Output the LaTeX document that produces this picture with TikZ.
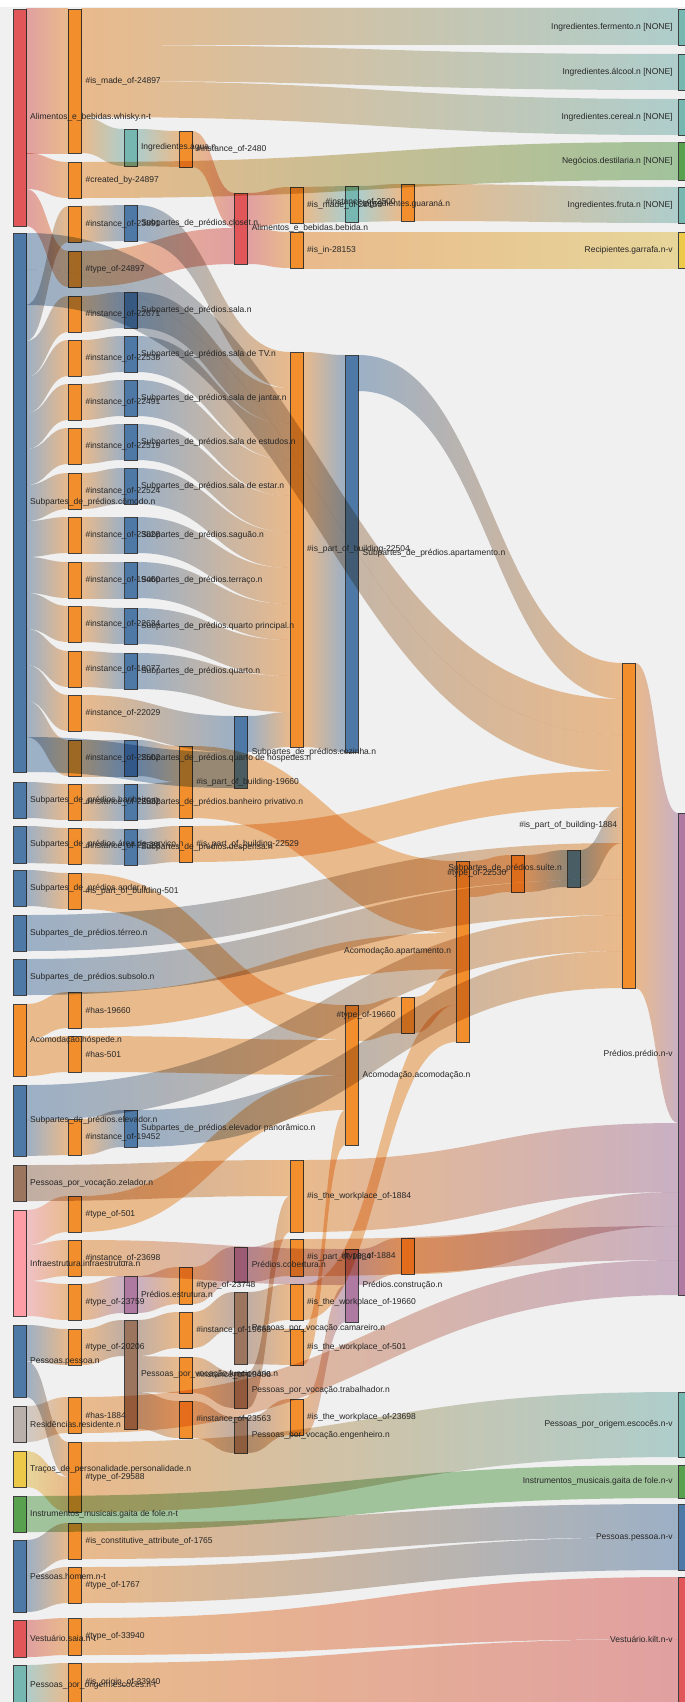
\documentclass[tikz,border=0pt]{standalone}
\usepackage{fontspec}
\setmainfont{Liberation Sans}
\usetikzlibrary{calc}

\definecolor{cBlue}{HTML}{4E79A7}
\definecolor{cOrange}{HTML}{F28E2C}
\definecolor{cRed}{HTML}{E15759}
\definecolor{cTeal}{HTML}{76B7B2}
\definecolor{cGreen}{HTML}{59A14F}
\definecolor{cYellow}{HTML}{EDC949}
\definecolor{cPurple}{HTML}{AF7AA1}
\definecolor{cPink}{HTML}{FF9DA7}
\definecolor{cBrown}{HTML}{9C755F}
\definecolor{cGray}{HTML}{BAB0AB}

\tikzset{
  bar/.style={fill=#1, draw=black!75, line width=0.6pt, minimum width=13pt,
    inner sep=0pt, outer sep=0pt, anchor=north west},
  link/.style={fill opacity=0.5, draw=none},
  lbl/.style={font=\fontsize{8.5}{10}\selectfont, text=black!85, inner sep=0pt}
}

% band from node #1 (offset #2, width #5) to node #3 (offset #4, width #6)
\newcommand{\flow}[8]{%
  \path[link, left color=#7, right color=#8]
    let \p1=(#1.north east), \p2=(#3.north west), \n1={(\x1+\x2)/2} in
    (\x1,\y1-#2) .. controls (\n1,\y1-#2) and (\n1,\y2-#4) .. (\x2,\y2-#4)
    -- (\x2,\y2-#4-#6) .. controls (\n1,\y2-#4-#6) and (\n1,\y1-#2-#5) .. (\x1,\y1-#2-#5)
    -- cycle;}
\newcommand{\lblR}[2]{\node[lbl, anchor=west] (#1-t) at ([xshift=4pt]#1.east) {#2};}
\newcommand{\lblL}[2]{\node[lbl, anchor=east] (#1-t) at ([xshift=-5pt]#1.west) {#2};}

\begin{document}
\begin{tikzpicture}[x=1pt, y=-1pt]

\useasboundingbox (0,0) rectangle (685,1702);
\fill[white] (0,0) rectangle (685,1702);
\fill[black!6] (0,7) rectangle (685,1702);

% Column 0
\node[bar=cRed, minimum height=217pt] (whisky) at (13,9) {};
\node[bar=cBlue, minimum height=539pt] (comodo) at (13,233) {};
\node[bar=cBlue, minimum height=36pt] (banheiro) at (13,782) {};
\node[bar=cBlue, minimum height=37pt] (area) at (13,826) {};
\node[bar=cBlue, minimum height=36pt] (andar) at (13,870) {};
\node[bar=cBlue, minimum height=36pt] (terreo) at (13,915) {};
\node[bar=cBlue, minimum height=36pt] (subsolo) at (13,959) {};
\node[bar=cOrange, minimum height=72pt] (hospede) at (13,1004) {};
\node[bar=cBlue, minimum height=71pt] (elevador) at (13,1085) {};
\node[bar=cBrown, minimum height=36pt] (zelador) at (13,1165) {};
\node[bar=cPink, minimum height=106pt] (infra) at (13,1210) {};
\node[bar=cBlue, minimum height=72pt] (pessoa) at (13,1325) {};
\node[bar=cGray, minimum height=36pt] (residente) at (13,1406) {};
\node[bar=cYellow, minimum height=36pt] (personal) at (13,1451) {};
\node[bar=cGreen, minimum height=36pt] (gaitat) at (13,1496) {};
\node[bar=cBlue, minimum height=72pt] (homem) at (13,1540) {};
\node[bar=cRed, minimum height=37pt] (saia) at (13,1620) {};
\node[bar=cTeal, minimum height=40pt] (escocest) at (13,1665) {};

% Column 1
\node[bar=cOrange, minimum height=144pt] (ismade) at (68.4,9) {};
\node[bar=cOrange, minimum height=36pt] (createdby) at (68.4,162) {};
\node[bar=cOrange, minimum height=36pt] (instA) at (68.4,206) {};
\node[bar=cOrange, minimum height=36pt] (typeof) at (68.4,251) {};
\node[bar=cOrange, minimum height=36pt] (instB) at (68.4,296) {};
\node[bar=cOrange, minimum height=36pt] (instC) at (68.4,340) {};
\node[bar=cOrange, minimum height=36pt] (instD) at (68.4,384) {};
\node[bar=cOrange, minimum height=36pt] (instE) at (68.4,428) {};
\node[bar=cOrange, minimum height=36pt] (instF) at (68.4,473) {};
\node[bar=cOrange, minimum height=36pt] (instG) at (68.4,517) {};
\node[bar=cOrange, minimum height=36pt] (instH) at (68.4,562) {};
\node[bar=cOrange, minimum height=36pt] (instI) at (68.4,606) {};
\node[bar=cOrange, minimum height=36pt] (instJ) at (68.4,651) {};
\node[bar=cOrange, minimum height=36pt] (instK) at (68.4,695) {};
\node[bar=cOrange, minimum height=36pt] (instL) at (68.4,740) {};
\node[bar=cOrange, minimum height=36pt] (instM) at (68.4,784) {};
\node[bar=cOrange, minimum height=36pt] (instN) at (68.4,828) {};
\node[bar=cOrange, minimum height=36pt] (ispart501) at (68.4,873) {};
\node[bar=cOrange, minimum height=36pt] (has19660) at (68.4,992) {};
\node[bar=cOrange, minimum height=36pt] (has501) at (68.4,1036) {};
\node[bar=cOrange, minimum height=36pt] (inst19452) at (68.4,1119) {};
\node[bar=cOrange, minimum height=36pt] (type501) at (68.4,1196) {};
\node[bar=cOrange, minimum height=36pt] (inst23698) at (68.4,1240) {};
\node[bar=cOrange, minimum height=36pt] (type23759) at (68.4,1284) {};
\node[bar=cOrange, minimum height=36pt] (type20206) at (68.4,1329) {};
\node[bar=cOrange, minimum height=36pt] (has1884) at (68.4,1397) {};
\node[bar=cOrange, minimum height=70pt] (type29588) at (68.4,1442) {};
\node[bar=cOrange, minimum height=36pt] (isconst) at (68.4,1523) {};
\node[bar=cOrange, minimum height=36pt] (type1767) at (68.4,1567) {};
\node[bar=cOrange, minimum height=37pt] (type33940) at (68.4,1618) {};
\node[bar=cOrange, minimum height=39pt] (orig33940) at (68.4,1663) {};

% Column 2
\node[bar=cTeal, minimum height=37pt] (agua) at (123.8,129) {};
\node[bar=cBlue, minimum height=36pt] (closet) at (123.8,205) {};
\node[bar=cBlue, minimum height=36pt] (sala) at (123.8,292) {};
\node[bar=cBlue, minimum height=36pt] (tv) at (123.8,336) {};
\node[bar=cBlue, minimum height=36pt] (jantar) at (123.8,380) {};
\node[bar=cBlue, minimum height=36pt] (estudos) at (123.8,424) {};
\node[bar=cBlue, minimum height=36pt] (estar) at (123.8,468) {};
\node[bar=cBlue, minimum height=36pt] (saguao) at (123.8,517) {};
\node[bar=cBlue, minimum height=36pt] (terraco) at (123.8,562) {};
\node[bar=cBlue, minimum height=36pt] (qprinc) at (123.8,608) {};
\node[bar=cBlue, minimum height=36pt] (quarto) at (123.8,653) {};
\node[bar=cBlue, minimum height=36pt] (qhosp) at (123.8,740) {};
\node[bar=cBlue, minimum height=36pt] (bpriv) at (123.8,784) {};
\node[bar=cBlue, minimum height=36pt] (despensa) at (123.8,829) {};
\node[bar=cBlue, minimum height=37pt] (elevpan) at (123.8,1110) {};
\node[bar=cPurple, minimum height=37pt] (estrutura) at (123.8,1276) {};
\node[bar=cBrown, minimum height=109pt] (funcionario) at (123.8,1320) {};

% Column 3
\node[bar=cOrange, minimum height=36pt] (inst2480) at (179.2,131) {};
\node[bar=cOrange, minimum height=72pt] (isp19660) at (179.2,746) {};
\node[bar=cOrange, minimum height=36pt] (isp22529) at (179.2,826) {};
\node[bar=cOrange, minimum height=37pt] (type23748) at (179.2,1267) {};
\node[bar=cOrange, minimum height=36pt] (inst19668) at (179.2,1312) {};
\node[bar=cOrange, minimum height=36pt] (inst19486) at (179.2,1357) {};
\node[bar=cOrange, minimum height=37pt] (inst23563) at (179.2,1401) {};

% Column 4
\node[bar=cRed, minimum height=71pt] (bebida) at (234.6,193) {};
\node[bar=cBlue, minimum height=72pt] (cozinha) at (234.6,716) {};
\node[bar=cPurple, minimum height=35pt] (cobertura) at (234.6,1247) {};
\node[bar=cBrown, minimum height=72pt] (camareiro) at (234.6,1292) {};
\node[bar=cBrown, minimum height=36pt] (trabalhador) at (234.6,1372) {};
\node[bar=cBrown, minimum height=36pt] (engenheiro) at (234.6,1417) {};

% Column 5
\node[bar=cOrange, minimum height=36pt] (ismadeB) at (290,187) {};
\node[bar=cOrange, minimum height=36pt] (isin) at (290,232) {};
\node[bar=cOrange, minimum height=395pt] (isp22504) at (290,352) {};
\node[bar=cOrange, minimum height=72pt] (work1884) at (290,1160) {};
\node[bar=cOrange, minimum height=37pt] (isx1884) at (290,1239) {};
\node[bar=cOrange, minimum height=36pt] (work19660) at (290,1284) {};
\node[bar=cOrange, minimum height=36pt] (work501) at (290,1329) {};
\node[bar=cOrange, minimum height=36pt] (work23698) at (290,1399) {};

% Column 6
\node[bar=cTeal, minimum height=36pt] (guarana) at (345.4,186) {};
\node[bar=cBlue, minimum height=397pt] (apartamento) at (345.4,355) {};
\node[bar=cOrange, minimum height=140pt] (acomodacao) at (345.4,1005) {};
\node[bar=cPurple, minimum height=73pt] (construcao) at (345.4,1249) {};

% Columns 7 to 11
\node[bar=cOrange, minimum height=37pt] (inst2500) at (400.8,184) {};
\node[bar=cOrange, minimum height=36pt] (type19660) at (400.8,997) {};
\node[bar=cOrange, minimum height=36pt] (typex1884) at (400.8,1238) {};
\node[bar=cOrange, minimum height=181pt] (acomapart) at (456.2,861) {};
\node[bar=cOrange, minimum height=37pt] (type22530) at (511.6,855) {};
\node[bar=cBlue, minimum height=37pt] (suite) at (567,850) {};
\node[bar=cOrange, minimum height=325pt] (isp1884) at (622.4,663) {};

% Column 12
\node[bar=cTeal, minimum height=36pt] (fermento) at (677.8,9) {};
\node[bar=cTeal, minimum height=36pt] (alcool) at (677.8,54) {};
\node[bar=cTeal, minimum height=36pt] (cereal) at (677.8,99) {};
\node[bar=cGreen, minimum height=38pt] (destilaria) at (677.8,142) {};
\node[bar=cTeal, minimum height=36pt] (fruta) at (677.8,187) {};
\node[bar=cYellow, minimum height=36pt] (garrafa) at (677.8,232) {};
\node[bar=cPurple, minimum height=482pt] (predio) at (677.8,813) {};
\node[bar=cTeal, minimum height=65pt] (escocesv) at (677.8,1392) {};
\node[bar=cGreen, minimum height=33pt] (gaitav) at (677.8,1465) {};
\node[bar=cBlue, minimum height=66pt] (pessoav) at (677.8,1504) {};
\node[bar=cRed, minimum height=125pt] (kilt) at (677.8,1577) {};

\begin{scope}[blend mode=multiply]
% Whisky and drinks
\flow{whisky}{0}{ismade}{0}{144}{144}{cRed}{cOrange}
\flow{whisky}{144}{createdby}{0}{36}{36}{cRed}{cOrange}
\flow{whisky}{180}{typeof}{0}{37}{36}{cRed}{cOrange}
\flow{ismade}{0}{fermento}{0}{36}{36}{cOrange}{cTeal}
\flow{ismade}{36}{alcool}{0}{36}{36}{cOrange}{cTeal}
\flow{ismade}{72}{cereal}{0}{36}{36}{cOrange}{cTeal}
\flow{ismade}{108}{agua}{0}{36}{37}{cOrange}{cTeal}
\flow{createdby}{0}{destilaria}{0}{36}{38}{cOrange}{cGreen}
\flow{agua}{0}{inst2480}{0}{37}{36}{cTeal}{cOrange}
\flow{inst2480}{0}{bebida}{0}{36}{35}{cOrange}{cRed}
\flow{typeof}{0}{bebida}{35}{36}{36}{cOrange}{cRed}
\flow{bebida}{0}{ismadeB}{0}{35}{36}{cRed}{cOrange}
\flow{bebida}{35}{isin}{0}{36}{36}{cRed}{cOrange}
\flow{ismadeB}{0}{guarana}{0}{36}{36}{cOrange}{cTeal}
\flow{guarana}{0}{inst2500}{0}{36}{37}{cTeal}{cOrange}
\flow{inst2500}{0}{fruta}{0}{37}{36}{cOrange}{cTeal}
\flow{isin}{0}{garrafa}{0}{36}{36}{cOrange}{cYellow}

% Rooms
\flow{comodo}{0}{isp1884}{36}{36}{36}{cBlue}{cOrange}
\flow{comodo}{36}{isp1884}{72}{36}{36}{cBlue}{cOrange}
\flow{comodo}{72}{instA}{0}{36}{36}{cBlue}{cOrange}
\flow{comodo}{108}{instB}{0}{36}{36}{cBlue}{cOrange}
\flow{comodo}{144}{instC}{0}{36}{36}{cBlue}{cOrange}
\flow{comodo}{180}{instD}{0}{36}{36}{cBlue}{cOrange}
\flow{comodo}{216}{instE}{0}{36}{36}{cBlue}{cOrange}
\flow{comodo}{252}{instF}{0}{36}{36}{cBlue}{cOrange}
\flow{comodo}{288}{instG}{0}{36}{36}{cBlue}{cOrange}
\flow{comodo}{324}{instH}{0}{36}{36}{cBlue}{cOrange}
\flow{comodo}{360}{instI}{0}{36}{36}{cBlue}{cOrange}
\flow{comodo}{396}{instJ}{0}{36}{36}{cBlue}{cOrange}
\flow{comodo}{432}{instK}{0}{36}{36}{cBlue}{cOrange}
\flow{comodo}{468}{instL}{0}{36}{36}{cBlue}{cOrange}
\flow{comodo}{504}{cozinha}{36}{35}{36}{cBlue}{cBlue}
\flow{banheiro}{0}{instM}{0}{36}{36}{cBlue}{cOrange}
\flow{area}{0}{instN}{0}{37}{36}{cBlue}{cOrange}
\flow{instA}{0}{closet}{0}{36}{36}{cOrange}{cBlue}
\flow{instB}{0}{sala}{0}{36}{36}{cOrange}{cBlue}
\flow{instC}{0}{tv}{0}{36}{36}{cOrange}{cBlue}
\flow{instD}{0}{jantar}{0}{36}{36}{cOrange}{cBlue}
\flow{instE}{0}{estudos}{0}{36}{36}{cOrange}{cBlue}
\flow{instF}{0}{estar}{0}{36}{36}{cOrange}{cBlue}
\flow{instG}{0}{saguao}{0}{36}{36}{cOrange}{cBlue}
\flow{instH}{0}{terraco}{0}{36}{36}{cOrange}{cBlue}
\flow{instI}{0}{qprinc}{0}{36}{36}{cOrange}{cBlue}
\flow{instJ}{0}{quarto}{0}{36}{36}{cOrange}{cBlue}
\flow{instK}{0}{cozinha}{0}{36}{36}{cOrange}{cBlue}
\flow{instL}{0}{qhosp}{0}{36}{36}{cOrange}{cBlue}
\flow{instM}{0}{bpriv}{0}{36}{36}{cOrange}{cBlue}
\flow{instN}{0}{despensa}{0}{36}{36}{cOrange}{cBlue}
\flow{closet}{0}{isp22504}{0}{36}{36}{cBlue}{cOrange}
\flow{sala}{0}{isp22504}{36}{36}{36}{cBlue}{cOrange}
\flow{tv}{0}{isp22504}{72}{36}{36}{cBlue}{cOrange}
\flow{jantar}{0}{isp22504}{108}{36}{36}{cBlue}{cOrange}
\flow{estudos}{0}{isp22504}{144}{36}{36}{cBlue}{cOrange}
\flow{estar}{0}{isp22504}{180}{36}{36}{cBlue}{cOrange}
\flow{saguao}{0}{isp22504}{216}{36}{36}{cBlue}{cOrange}
\flow{terraco}{0}{isp22504}{252}{36}{36}{cBlue}{cOrange}
\flow{qprinc}{0}{isp22504}{288}{36}{36}{cBlue}{cOrange}
\flow{quarto}{0}{isp22504}{324}{36}{36}{cBlue}{cOrange}
\flow{cozinha}{0}{isp22504}{360}{36}{35}{cBlue}{cOrange}
\flow{isp22504}{0}{apartamento}{0}{395}{397}{cOrange}{cBlue}
\flow{qhosp}{0}{isp19660}{0}{36}{36}{cBlue}{cOrange}
\flow{bpriv}{0}{isp19660}{36}{36}{36}{cBlue}{cOrange}
\flow{despensa}{0}{isp22529}{0}{36}{36}{cBlue}{cOrange}

% Parts of the building
\flow{apartamento}{0}{isp1884}{0}{36}{36}{cBlue}{cOrange}
\flow{isp22529}{0}{isp1884}{108}{36}{36}{cOrange}{cOrange}
\flow{suite}{0}{isp1884}{144}{37}{36}{cBlue}{cOrange}
\flow{terreo}{0}{isp1884}{180}{36}{36}{cBlue}{cOrange}
\flow{subsolo}{0}{isp1884}{216}{36}{36}{cBlue}{cOrange}
\flow{elevador}{0}{isp1884}{252}{35}{36}{cBlue}{cOrange}
\flow{elevpan}{0}{isp1884}{288}{37}{37}{cBlue}{cOrange}
\flow{elevador}{35}{inst19452}{0}{36}{36}{cBlue}{cOrange}
\flow{inst19452}{0}{elevpan}{0}{36}{37}{cOrange}{cBlue}
\flow{isp1884}{0}{predio}{0}{325}{310}{cOrange}{cPurple}

% Lodging
\flow{acomapart}{0}{type22530}{0}{36}{37}{cOrange}{cOrange}
\flow{type22530}{0}{suite}{0}{37}{37}{cOrange}{cBlue}
\flow{acomodacao}{0}{type19660}{0}{36}{36}{cOrange}{cOrange}
\flow{isp19660}{0}{acomapart}{0}{72}{72}{cOrange}{cOrange}
\flow{has19660}{0}{acomapart}{72}{36}{36}{cOrange}{cOrange}
\flow{type19660}{0}{acomapart}{108}{36}{36}{cOrange}{cOrange}
\flow{work19660}{0}{acomapart}{144}{36}{37}{cOrange}{cOrange}
\flow{andar}{0}{ispart501}{0}{36}{36}{cBlue}{cOrange}
\flow{ispart501}{0}{acomodacao}{0}{36}{35}{cOrange}{cOrange}
\flow{has501}{0}{acomodacao}{35}{36}{35}{cOrange}{cOrange}
\flow{type501}{0}{acomodacao}{70}{36}{35}{cOrange}{cOrange}
\flow{work501}{0}{acomodacao}{105}{36}{35}{cOrange}{cOrange}
\flow{hospede}{0}{has19660}{0}{36}{36}{cOrange}{cOrange}
\flow{hospede}{36}{has501}{0}{36}{36}{cOrange}{cOrange}

% Infrastructure and people
\flow{zelador}{0}{work1884}{0}{36}{36}{cBrown}{cOrange}
\flow{infra}{0}{type501}{0}{35}{36}{cPink}{cOrange}
\flow{infra}{35}{inst23698}{0}{36}{36}{cPink}{cOrange}
\flow{infra}{71}{type23759}{0}{35}{36}{cPink}{cOrange}
\flow{inst23698}{0}{construcao}{0}{36}{36}{cOrange}{cPurple}
\flow{type23759}{0}{estrutura}{0}{36}{37}{cOrange}{cPurple}
\flow{estrutura}{0}{type23748}{0}{37}{37}{cPurple}{cOrange}
\flow{type23748}{0}{cobertura}{0}{37}{35}{cOrange}{cPurple}
\flow{cobertura}{0}{isx1884}{0}{35}{37}{cPurple}{cOrange}
\flow{construcao}{0}{typex1884}{0}{36}{36}{cPurple}{cOrange}
\flow{pessoa}{0}{type20206}{0}{36}{36}{cBlue}{cOrange}
\flow{pessoa}{36}{type29588}{0}{36}{35}{cBlue}{cOrange}
\flow{type20206}{0}{funcionario}{0}{36}{36}{cOrange}{cBrown}
\flow{funcionario}{0}{inst19668}{0}{36}{36}{cBrown}{cOrange}
\flow{funcionario}{36}{inst19486}{0}{36}{36}{cBrown}{cOrange}
\flow{funcionario}{72}{inst23563}{0}{37}{37}{cBrown}{cOrange}
\flow{inst19668}{0}{camareiro}{0}{36}{36}{cOrange}{cBrown}
\flow{inst19486}{0}{trabalhador}{0}{36}{36}{cOrange}{cBrown}
\flow{inst23563}{0}{engenheiro}{0}{37}{36}{cOrange}{cBrown}
\flow{camareiro}{0}{work19660}{0}{36}{36}{cBrown}{cOrange}
\flow{camareiro}{36}{work501}{0}{36}{36}{cBrown}{cOrange}
\flow{trabalhador}{0}{work1884}{36}{36}{36}{cBrown}{cOrange}
\flow{engenheiro}{0}{work23698}{0}{36}{36}{cBrown}{cOrange}
\flow{work23698}{0}{construcao}{36}{36}{37}{cOrange}{cPurple}
\flow{residente}{0}{has1884}{0}{36}{36}{cGray}{cOrange}
\flow{work1884}{0}{predio}{310}{72}{69}{cOrange}{cPurple}
\flow{typex1884}{0}{predio}{379}{36}{34}{cOrange}{cPurple}
\flow{isx1884}{0}{predio}{413}{37}{34}{cOrange}{cPurple}
\flow{has1884}{0}{predio}{447}{36}{35}{cOrange}{cPurple}

% Scottish things
\flow{personal}{0}{type29588}{35}{36}{35}{cYellow}{cOrange}
\flow{type29588}{0}{escocesv}{0}{70}{65}{cOrange}{cTeal}
\flow{gaitat}{0}{gaitav}{0}{36}{33}{cGreen}{cGreen}
\flow{homem}{0}{isconst}{0}{36}{36}{cBlue}{cOrange}
\flow{homem}{36}{type1767}{0}{36}{36}{cBlue}{cOrange}
\flow{isconst}{0}{pessoav}{0}{36}{33}{cOrange}{cBlue}
\flow{type1767}{0}{pessoav}{33}{36}{33}{cOrange}{cBlue}
\flow{saia}{0}{type33940}{0}{37}{37}{cRed}{cOrange}
\flow{escocest}{0}{orig33940}{0}{39}{39}{cTeal}{cOrange}
\flow{type33940}{0}{kilt}{0}{37}{62}{cOrange}{cRed}
\flow{orig33940}{0}{kilt}{62}{39}{63}{cOrange}{cRed}
\end{scope}

% Labels, left part
\lblR{whisky}{Alimentos\_e\_bebidas.whisky.n-t}
\lblR{comodo}{Subpartes\_de\_prédios.cômodo.n}
\lblR{banheiro}{Subpartes\_de\_prédios.banheiro.n}
\lblR{area}{Subpartes\_de\_prédios.área de serviço.n}
\lblR{andar}{Subpartes\_de\_prédios.andar.n}
\lblR{terreo}{Subpartes\_de\_prédios.térreo.n}
\lblR{subsolo}{Subpartes\_de\_prédios.subsolo.n}
\lblR{hospede}{Acomodação.hóspede.n}
\lblR{elevador}{Subpartes\_de\_prédios.elevador.n}
\lblR{zelador}{Pessoas\_por\_vocação.zelador.n}
\lblR{infra}{Infraestrutura.infraestrutura.n}
\lblR{pessoa}{Pessoas.pessoa.n}
\lblR{residente}{Residências.residente.n}
\lblR{personal}{Traços\_de\_personalidade.personalidade.n}
\lblR{gaitat}{Instrumentos\_musicais.gaita de fole.n-t}
\lblR{homem}{Pessoas.homem.n-t}
\lblR{saia}{Vestuário.saia.n-t}
\lblR{escocest}{Pessoas\_por\_origem.escocês.n-t}

\lblR{ismade}{\#is\_made\_of-24897}
\lblR{createdby}{\#created\_by-24897}
\lblR{instA}{\#instance\_of-23891}
\lblR{typeof}{\#type\_of-24897}
\lblR{instB}{\#instance\_of-22671}
\lblR{instC}{\#instance\_of-22538}
\lblR{instD}{\#instance\_of-22491}
\lblR{instE}{\#instance\_of-22519}
\lblR{instF}{\#instance\_of-22524}
\lblR{instG}{\#instance\_of-23828}
\lblR{instH}{\#instance\_of-19460}
\lblR{instI}{\#instance\_of-22634}
\lblR{instJ}{\#instance\_of-18077}
\lblR{instK}{\#instance\_of-22029}
\lblR{instL}{\#instance\_of-22502}
\lblR{instM}{\#instance\_of-22532}
\lblR{instN}{\#instance\_of-22528}
\lblR{ispart501}{\#is\_part\_of\_building-501}
\lblR{has19660}{\#has-19660}
\lblR{has501}{\#has-501}
\lblR{inst19452}{\#instance\_of-19452}
\lblR{type501}{\#type\_of-501}
\lblR{inst23698}{\#instance\_of-23698}
\lblR{type23759}{\#type\_of-23759}
\lblR{type20206}{\#type\_of-20206}
\lblR{has1884}{\#has-1884}
\lblR{type29588}{\#type\_of-29588}
\lblR{isconst}{\#is\_constitutive\_attribute\_of-1765}
\lblR{type1767}{\#type\_of-1767}
\lblR{type33940}{\#type\_of-33940}
\lblR{orig33940}{\#is\_origin\_of-33940}

\lblR{agua}{Ingredientes.água.n}
\lblR{closet}{Subpartes\_de\_prédios.closet.n}
\lblR{sala}{Subpartes\_de\_prédios.sala.n}
\lblR{tv}{Subpartes\_de\_prédios.sala de TV.n}
\lblR{jantar}{Subpartes\_de\_prédios.sala de jantar.n}
\lblR{estudos}{Subpartes\_de\_prédios.sala de estudos.n}
\lblR{estar}{Subpartes\_de\_prédios.sala de estar.n}
\lblR{saguao}{Subpartes\_de\_prédios.saguão.n}
\lblR{terraco}{Subpartes\_de\_prédios.terraço.n}
\lblR{qprinc}{Subpartes\_de\_prédios.quarto principal.n}
\lblR{quarto}{Subpartes\_de\_prédios.quarto.n}
\lblR{qhosp}{Subpartes\_de\_prédios.quarto de hóspedes.n}
\lblR{bpriv}{Subpartes\_de\_prédios.banheiro privativo.n}
\lblR{despensa}{Subpartes\_de\_prédios.despensa.n}
\lblR{elevpan}{Subpartes\_de\_prédios.elevador panorâmico.n}
\lblR{estrutura}{Prédios.estrutura.n}
\lblR{funcionario}{Pessoas\_por\_vocação.funcionário.n}

\lblR{inst2480}{\#instance\_of-2480}
\lblR{isp19660}{\#is\_part\_of\_building-19660}
\lblR{isp22529}{\#is\_part\_of\_building-22529}
\lblR{type23748}{\#type\_of-23748}
\lblR{inst19668}{\#instance\_of-19668}
\lblR{inst19486}{\#instance\_of-19486}
\lblR{inst23563}{\#instance\_of-23563}

\lblR{bebida}{Alimentos\_e\_bebidas.bebida.n}
\lblR{cozinha}{Subpartes\_de\_prédios.cozinha.n}
\lblR{cobertura}{Prédios.cobertura.n}
\lblR{camareiro}{Pessoas\_por\_vocação.camareiro.n}
\lblR{trabalhador}{Pessoas\_por\_vocação.trabalhador.n}
\lblR{engenheiro}{Pessoas\_por\_vocação.engenheiro.n}

\lblR{ismadeB}{\#is\_made\_of-28153}
\lblR{isin}{\#is\_in-28153}
\lblR{isp22504}{\#is\_part\_of\_building-22504}
\lblR{work1884}{\#is\_the\_workplace\_of-1884}
\lblR{isx1884}{\#is\_part\_of-1884}
\lblR{work19660}{\#is\_the\_workplace\_of-19660}
\lblR{work501}{\#is\_the\_workplace\_of-501}
\lblR{work23698}{\#is\_the\_workplace\_of-23698}

\lblR{guarana}{Ingredientes.guaraná.n}
\lblR{apartamento}{Subpartes\_de\_prédios.apartamento.n}
\lblR{acomodacao}{Acomodação.acomodação.n}
\lblR{construcao}{Prédios.construção.n}

% Labels, right part
\lblL{inst2500}{\#instance\_of-2500}
\lblL{type19660}{\#type\_of-19660}
\lblL{typex1884}{\#type\_of-1884}
\lblL{acomapart}{Acomodação.apartamento.n}
\lblL{type22530}{\#type\_of-22530}
\lblL{suite}{Subpartes\_de\_prédios.suíte.n}
\lblL{isp1884}{\#is\_part\_of\_building-1884}

\lblL{fermento}{Ingredientes.fermento.n [NONE]}
\lblL{alcool}{Ingredientes.álcool.n [NONE]}
\lblL{cereal}{Ingredientes.cereal.n [NONE]}
\lblL{destilaria}{Negócios.destilaria.n [NONE]}
\lblL{fruta}{Ingredientes.fruta.n [NONE]}
\lblL{garrafa}{Recipientes.garrafa.n-v}
\lblL{predio}{Prédios.prédio.n-v}
\lblL{escocesv}{Pessoas\_por\_origem.escocês.n-v}
\lblL{gaitav}{Instrumentos\_musicais.gaita de fole.n-v}
\lblL{pessoav}{Pessoas.pessoa.n-v}
\lblL{kilt}{Vestuário.kilt.n-v}

\end{tikzpicture}
\end{document}
